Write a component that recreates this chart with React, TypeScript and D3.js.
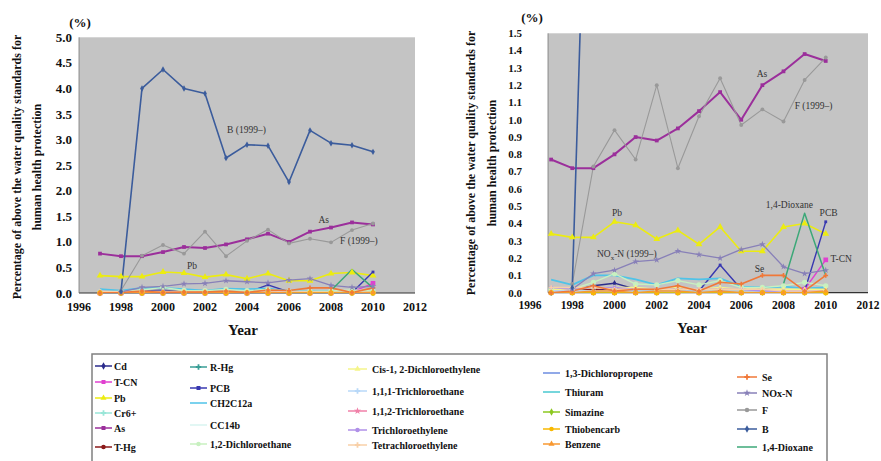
import * as d3 from 'd3';

// ---- data (% of wells above standard) ----
const years = [1997, 1998, 1999, 2000, 2001, 2002, 2003, 2004, 2005, 2006, 2007, 2008, 2009, 2010];

const cd = [0.0, 0.01, 0.04, 0.055, 0.02, 0.02, 0.02, 0.01, 0.01, 0.01, 0.02, 0.01, 0.02, 0.02];
const tcn = [0.0, 0.0, 0.0, 0.0, 0.0, 0.0, 0.0, 0.0, 0.0, 0.0, 0.0, 0.0, 0.02, 0.19];
const pb = [0.34, 0.32, 0.32, 0.41, 0.39, 0.31, 0.36, 0.28, 0.38, 0.24, 0.24, 0.38, 0.4, 0.34];
const cr6 = [0.02, 0.02, 0.02, 0.02, 0.01, 0.01, 0.02, 0.01, 0.02, 0.01, 0.01, 0.01, 0.01, 0.01];
const as = [0.77, 0.72, 0.72, 0.8, 0.9, 0.88, 0.95, 1.05, 1.16, 1.0, 1.2, 1.28, 1.38, 1.34];
const thg = [0.01, 0.01, 0.02, 0.02, 0.02, 0.01, 0.02, 0.01, 0.01, 0.01, 0.01, 0.01, 0.01, 0.01];
const rhg = [0.0, 0.0, 0.0, 0.0, 0.0, 0.0, 0.0, 0.0, 0.0, 0.0, 0.0, 0.0, 0.0, 0.0];
const pcb = [0.0, 0.0, 0.01, 0.02, 0.01, 0.01, 0.01, 0.01, 0.16, 0.02, 0.01, 0.01, 0.01, 0.41];
const ch2cl2 = [0.075, 0.045, 0.1, 0.1, 0.077, 0.045, 0.083, 0.077, 0.083, 0.035, 0.03, 0.035, 0.025, 0.03];
const ccl4 = [0.01, 0.01, 0.01, 0.01, 0.01, 0.01, 0.01, 0.01, 0.01, 0.01, 0.01, 0.01, 0.01, 0.01];
const dce12 = [0.02, 0.02, 0.06, 0.11, 0.05, 0.045, 0.07, 0.045, 0.07, 0.03, 0.03, 0.04, 0.06, 0.04];
const cisDce = [0.02, 0.02, 0.03, 0.03, 0.03, 0.02, 0.03, 0.02, 0.03, 0.02, 0.02, 0.02, 0.02, 0.02];
const tca111 = [0.01, 0.01, 0.01, 0.01, 0.0, 0.0, 0.0, 0.0, 0.0, 0.0, 0.0, 0.0, 0.0, 0.0];
const tca112 = [0.0, 0.0, 0.0, 0.0, 0.0, 0.0, 0.0, 0.0, 0.0, 0.0, 0.0, 0.0, 0.0, 0.0];
const tce = [0.03, 0.02, 0.03, 0.03, 0.02, 0.02, 0.02, 0.02, 0.02, 0.02, 0.01, 0.01, 0.01, 0.01];
const pce = [0.03, 0.03, 0.03, 0.02, 0.02, 0.02, 0.02, 0.02, 0.02, 0.02, 0.02, 0.01, 0.01, 0.01];
const dcp13 = [0.0, 0.0, 0.0, 0.0, 0.0, 0.0, 0.0, 0.0, 0.0, 0.0, 0.0, 0.0, 0.0, 0.0];
const thiuram = [0.0, 0.0, 0.0, 0.0, 0.0, 0.0, 0.0, 0.0, 0.0, 0.0, 0.0, 0.0, 0.0, 0.0];
const simazine = [0.0, 0.0, 0.0, 0.0, 0.0, 0.0, 0.0, 0.0, 0.0, 0.0, 0.0, 0.0, 0.0, 0.0];
const thiobencarb = [0.0, 0.0, 0.0, 0.0, 0.0, 0.0, 0.0, 0.0, 0.0, 0.0, 0.0, 0.0, 0.0, 0.0];
const benzene = [0.0, 0.0, 0.01, 0.01, 0.0, 0.01, 0.01, 0.0, 0.01, 0.0, 0.0, 0.0, 0.0, 0.01];
const se = [0.0, 0.01, 0.04, 0.01, 0.02, 0.02, 0.04, 0.01, 0.06, 0.05, 0.1, 0.1, 0.01, 0.1];
const noxN = [null, 0.02, 0.11, 0.13, 0.18, 0.19, 0.24, 0.22, 0.2, 0.25, 0.28, 0.15, 0.11, 0.13];
const fl = [null, 0.05, 0.73, 0.94, 0.77, 1.2, 0.72, 1.02, 1.24, 0.97, 1.06, 0.99, 1.23, 1.36];
const boron = [null, 0.03, 4.0, 4.37, 4.0, 3.9, 2.64, 2.9, 2.88, 2.17, 3.18, 2.93, 2.89, 2.76];
const dioxane = [null, null, null, null, null, null, null, null, null, null, null, 0.05, 0.46, 0.1];

type Series = {
    name: string;
    values: (number | null)[];
    color: string;
    symbol: d3.SymbolType | null;
    width?: number;
    size?: number;
};

// legend order = drawing order
const seriesList: Series[] = [
    { name: 'Cd', values: cd, color: '#2b2b8c', symbol: d3.symbolDiamond },
    { name: 'T-CN', values: tcn, color: '#e040d0', symbol: d3.symbolSquare, size: 22 },
    { name: 'Pb', values: pb, color: '#ecec10', symbol: d3.symbolTriangle, size: 20, width: 1.6 },
    { name: 'Cr6+', values: cr6, color: '#99e6d8', symbol: d3.symbolCross },
    { name: 'As', values: as, color: '#9b2f9b', symbol: d3.symbolSquare, size: 14, width: 2 },
    { name: 'T-Hg', values: thg, color: '#8b1a1a', symbol: d3.symbolCircle },
    { name: 'R-Hg', values: rhg, color: '#3a9e96', symbol: d3.symbolCross },
    { name: 'PCB', values: pcb, color: '#3838b0', symbol: d3.symbolSquare, size: 8 },
    { name: 'CH2C12a', values: ch2cl2, color: '#4fc3e8', symbol: null, width: 1.8 },
    { name: 'CC14b', values: ccl4, color: '#d8f4f0', symbol: null },
    { name: '1,2-Dichloroethane', values: dce12, color: '#c8f0c0', symbol: d3.symbolCircle, size: 22 },
    { name: 'Cis-1, 2-Dichloroethylene', values: cisDce, color: '#f5f58a', symbol: d3.symbolTriangle },
    { name: '1,1,1-Trichloroethane', values: tca111, color: '#b8d8f8', symbol: d3.symbolCross },
    { name: '1,1,2-Trichloroethane', values: tca112, color: '#f080a8', symbol: d3.symbolStar },
    { name: 'Trichloroethylene', values: tce, color: '#b090e8', symbol: d3.symbolCircle },
    { name: 'Tetrachloroethylene', values: pce, color: '#f8d0a8', symbol: d3.symbolCross },
    { name: '1,3-Dichloropropene', values: dcp13, color: '#6c8ce0', symbol: null },
    { name: 'Thiuram', values: thiuram, color: '#48c8d0', symbol: null },
    { name: 'Simazine', values: simazine, color: '#8cc820', symbol: d3.symbolDiamond },
    { name: 'Thiobencarb', values: thiobencarb, color: '#f8b800', symbol: d3.symbolCircle, size: 22 },
    { name: 'Benzene', values: benzene, color: '#f89830', symbol: d3.symbolTriangle },
    { name: 'Se', values: se, color: '#f07838', symbol: d3.symbolCross, width: 1.6 },
    { name: 'NOx-N', values: noxN, color: '#8880b8', symbol: d3.symbolStar, size: 14, width: 1.3 },
    { name: 'F', values: fl, color: '#999999', symbol: d3.symbolCircle, size: 12, width: 1.1 },
    { name: 'B', values: boron, color: '#3b5c9c', symbol: d3.symbolDiamond, size: 12, width: 1.6 },
    { name: '1,4-Dioxane', values: dioxane, color: '#3ca878', symbol: null, width: 1.5 },
];

const legendColumns = [
    ['Cd', 'T-CN', 'Pb', 'Cr6+', 'As', 'T-Hg'],
    ['R-Hg', 'PCB', 'CH2C12a', 'CC14b', '1,2-Dichloroethane'],
    ['Cis-1, 2-Dichloroethylene', '1,1,1-Trichloroethane', '1,1,2-Trichloroethane', 'Trichloroethylene', 'Tetrachloroethylene'],
    ['1,3-Dichloropropene', 'Thiuram', 'Simazine', 'Thiobencarb', 'Benzene'],
    ['Se', 'NOx-N', 'F', 'B', '1,4-Dioxane'],
];

const xTickYears = [1996, 1998, 2000, 2002, 2004, 2006, 2008, 2010, 2012];

const SERIF = 'Liberation Serif, DejaVu Serif, serif';

type Note = { text: string; year: number; value: number; sub?: boolean };

type PanelCfg = {
    id: string;
    xRange: [number, number];
    plotLeft: number;
    plotRight: number;
    top: number;
    bottom: number;
    yMax: number;
    yStep: number;
    yTickX: number;
    yTickSize: number;
    xTickSize: number;
    xTickY: number;
    pct: [number, number];
    titleX: [number, number];
    titleY: number;
    yearPos: [number, number];
    notes: Note[];
};

const panels: PanelCfg[] = [
    {
        id: 'left',
        xRange: [79, 415],
        plotLeft: 79,
        plotRight: 415,
        top: 37.3,
        bottom: 293,
        yMax: 5,
        yStep: 0.5,
        yTickX: 72,
        yTickSize: 13,
        xTickSize: 12,
        xTickY: 311,
        pct: [80, 27],
        titleX: [17, 37],
        titleY: 167,
        yearPos: [243, 335],
        notes: [
            { text: 'B (1999\u2013)', year: 2003.05, value: 3.12 },
            { text: 'As', year: 2007.4, value: 1.37 },
            { text: 'F (1999\u2013)', year: 2008.43, value: 0.96 },
            { text: 'Pb', year: 2001.14, value: 0.46 },
        ],
    },
    {
        id: 'right',
        xRange: [530, 868],
        plotLeft: 548,
        plotRight: 868,
        top: 33.3,
        bottom: 292.7,
        yMax: 1.5,
        yStep: 0.1,
        yTickX: 522,
        yTickSize: 11,
        xTickSize: 11.5,
        xTickY: 309,
        pct: [532, 22],
        titleX: [471, 492],
        titleY: 163,
        yearPos: [692, 333],
        notes: [
            { text: 'As', year: 2006.73, value: 1.247 },
            { text: 'F (1999\u2013)', year: 2008.53, value: 1.06 },
            { text: 'Pb', year: 1999.88, value: 0.446 },
            { text: 'NOx-N (1999\u2013)', year: 1999.17, value: 0.206, sub: true },
            { text: 'Se', year: 2006.64, value: 0.12 },
            { text: '1,4-Dioxane', year: 2007.16, value: 0.487 },
            { text: 'PCB', year: 2009.71, value: 0.446 },
            { text: 'T-CN', year: 2010.23, value: 0.177 },
        ],
    },
];

const txt = (size: number, bold = false) => ({
    style: { fontFamily: SERIF, fontSize: `${size}px`, fontWeight: bold ? 700 : 400 },
});

function Panel({ cfg }: { cfg: PanelCfg }) {
    const x = d3.scaleLinear().domain([1996, 2012]).range(cfg.xRange);
    const y = d3.scaleLinear().domain([0, cfg.yMax]).range([cfg.bottom, cfg.top]);
    const yTicks = d3.range(0, Math.round(cfg.yMax / cfg.yStep) + 1).map((i) => i * cfg.yStep);
    const fmt = d3.format('.1f');
    const line = d3
        .line<number | null>()
        .defined((v) => v != null)
        .x((_, i) => x(years[i]))
        .y((v) => y(v as number));
    const clipId = `clip-${cfg.id}`;

    return (
        <g>
            <defs>
                <clipPath id={clipId}>
                    <rect x={cfg.plotLeft} y={cfg.top} width={cfg.plotRight - cfg.plotLeft} height={cfg.bottom - cfg.top} />
                </clipPath>
            </defs>
            <rect x={cfg.plotLeft} y={cfg.top} width={cfg.plotRight - cfg.plotLeft} height={cfg.bottom - cfg.top} fill="#c4c4c4" />
            <line x1={cfg.plotLeft} x2={cfg.plotRight} y1={cfg.bottom} y2={cfg.bottom} stroke="#333" strokeWidth={1.2} />
            <line x1={cfg.plotLeft} x2={cfg.plotLeft} y1={cfg.top} y2={cfg.bottom} stroke="#777" strokeWidth={0.8} />

            <g clipPath={`url(#${clipId})`}>
                {seriesList.map((s) => (
                    <path key={s.name} d={line(s.values) ?? ''} fill="none" stroke={s.color} strokeWidth={s.width ?? 1.4} strokeLinejoin="round" />
                ))}
            </g>
            <g>
                {seriesList.map((s) =>
                    s.symbol
                        ? s.values.map((v, i) =>
                              v == null || v > cfg.yMax ? null : (
                                  <path
                                      key={`${s.name}-${i}`}
                                      transform={`translate(${x(years[i])},${y(v)})`}
                                      d={d3.symbol().type(s.symbol as d3.SymbolType).size(s.size ?? 12)() ?? ''}
                                      fill={s.color}
                                  />
                              )
                          )
                        : null
                )}
            </g>

            {/* y ticks */}
            {yTicks.map((t) => (
                <text key={t} x={cfg.yTickX} y={y(t) + cfg.yTickSize * 0.35} textAnchor="end" fill="#111" {...txt(cfg.yTickSize, true)}>
                    {fmt(t)}
                </text>
            ))}
            {/* x ticks */}
            {xTickYears.map((t) => (
                <text key={t} x={x(t)} y={cfg.xTickY} textAnchor="middle" fill="#111" {...txt(cfg.xTickSize, true)}>
                    {t}
                </text>
            ))}

            <text x={cfg.pct[0]} y={cfg.pct[1]} textAnchor="middle" fill="#111" {...txt(13, true)}>
                (%)
            </text>
            <text transform={`translate(${cfg.titleX[0]},${cfg.titleY}) rotate(-90)`} textAnchor="middle" dominantBaseline="central" fill="#111" {...txt(12, true)}>
                Percentage of above the water quality standards for
            </text>
            <text transform={`translate(${cfg.titleX[1]},${cfg.titleY}) rotate(-90)`} textAnchor="middle" dominantBaseline="central" fill="#111" {...txt(12, true)}>
                human health protection
            </text>
            <text x={cfg.yearPos[0]} y={cfg.yearPos[1]} textAnchor="middle" fill="#111" {...txt(15, true)}>
                Year
            </text>

            {cfg.notes.map((n) =>
                n.sub ? (
                    <text key={n.text} x={x(n.year)} y={y(n.value)} fill="#333" {...txt(9.5)}>
                        NO
                        <tspan dy={2.5} style={{ fontSize: '7px' }}>
                            x
                        </tspan>
                        <tspan dy={-2.5}>-N (1999{'\u2013'})</tspan>
                    </text>
                ) : (
                    <text key={n.text} x={x(n.year)} y={y(n.value)} fill="#333" {...txt(9.5)}>
                        {n.text}
                    </text>
                )
            )}
        </g>
    );
}

// legend layout
const legendBox = { x: 92, y: 354, w: 735, h: 115 };
const legendColX = [
    { line: [95, 112], text: 114 },
    { line: [190, 207], text: 210 },
    { line: [348, 367], text: 372 },
    { line: [543, 560], text: 565 },
    { line: [737, 757], text: 762 },
];
const legendRowY = [
    [366, 382, 398, 413, 428, 447],
    [367, 388, 403, 425, 444],
    [369, 391, 411, 430, 445],
    [373, 392, 412, 429, 444],
    [377, 393, 410, 429, 447],
];

function Legend() {
    const byName = new Map(seriesList.map((s) => [s.name, s]));
    return (
        <g>
            <rect x={legendBox.x} y={legendBox.y} width={legendBox.w} height={legendBox.h} fill="#fff" stroke="#808080" strokeWidth={1.5} />
            {legendColumns.map((col, ci) =>
                col.map((name, ri) => {
                    const s = byName.get(name)!;
                    const cy = legendRowY[ci][ri];
                    const [l0, l1] = legendColX[ci].line;
                    return (
                        <g key={name}>
                            <line x1={l0} x2={l1} y1={cy} y2={cy} stroke={s.color} strokeWidth={1.5} />
                            {s.symbol ? (
                                <path transform={`translate(${(l0 + l1) / 2},${cy})`} d={d3.symbol().type(s.symbol).size(16)() ?? ''} fill={s.color} />
                            ) : null}
                            <text x={legendColX[ci].text} y={cy + 3.5} fill="#111" {...txt(10, true)}>
                                {name}
                            </text>
                        </g>
                    );
                })
            )}
        </g>
    );
}

export default function App() {
    return (
        <div style={{ position: 'absolute', left: 0, top: 0 }}>
            <svg width={881} height={461} viewBox="0 0 881 461" style={{ display: 'block', background: '#fff' }}>
                {panels.map((p) => (
                    <Panel key={p.id} cfg={p} />
                ))}
                <Legend />
            </svg>
        </div>
    );
}
